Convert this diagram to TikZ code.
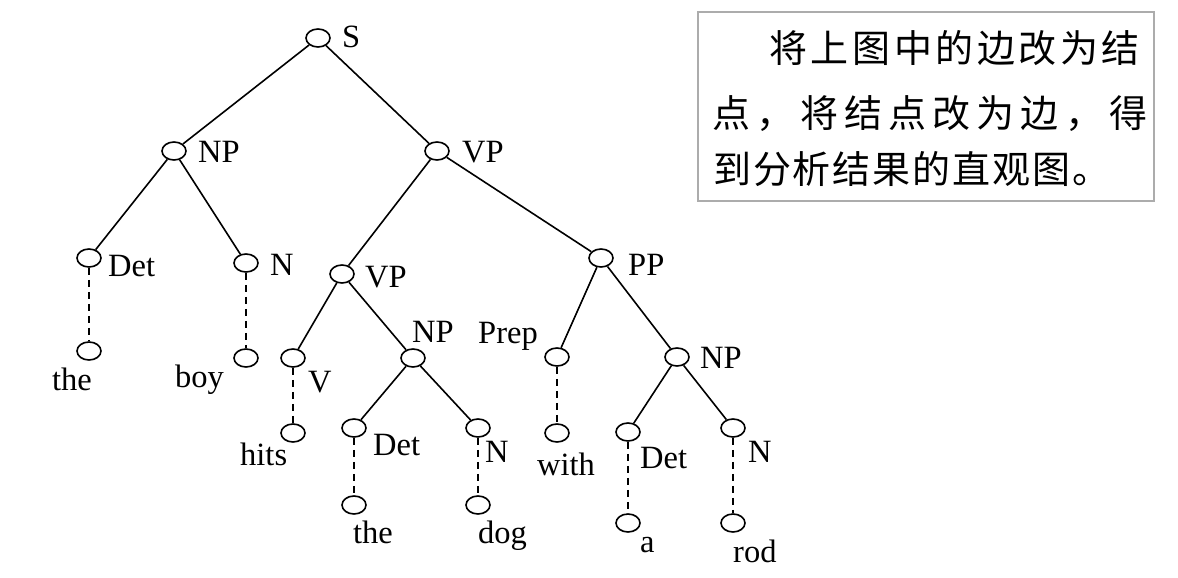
\documentclass[tikz,border=0pt]{standalone}
\usepackage{fontspec}
\setmainfont{Liberation Serif}
\newfontfamily\cjk{Noto Sans CJK SC}
\usetikzlibrary{shapes.geometric}
\newlength\cpitch
\newcommand\cb[1]{\makebox[\cpitch]{#1}}
\begin{document}
\begin{tikzpicture}[x=1pt,y=-1pt,
  nd/.style={ellipse,draw,line width=1.6pt,minimum width=24pt,minimum height=18pt,inner sep=0pt},
  lab/.style={anchor=base west,inner sep=0pt,font=\fontsize{32.5}{38}\selectfont},
  edge/.style={line width=1.6pt},
  lex/.style={line width=1.6pt,dash pattern=on 7pt off 5pt},
  cjkl/.style={anchor=base west,inner sep=0pt,font=\fontsize{38}{42}\cjk}]
\useasboundingbox (0,0) rectangle (1178,578);
% nodes
\node[nd] (S) at (318,38) {};
\node[nd] (NP1) at (174,151) {};
\node[nd] (VP1) at (437,151) {};
\node[nd] (Det1) at (89,258) {};
\node[nd] (N1) at (246,263) {};
\node[nd] (VP2) at (342,274) {};
\node[nd] (PP) at (601,258) {};
\node[nd] (the1) at (89,351) {};
\node[nd] (boy) at (246,358) {};
\node[nd] (V) at (293,358) {};
\node[nd] (NP2) at (413,358) {};
\node[nd] (hits) at (293,433) {};
\node[nd] (Det2) at (354,428) {};
\node[nd] (N2) at (478,428) {};
\node[nd] (the2) at (354,505) {};
\node[nd] (dog) at (478,505) {};
\node[nd] (Prep) at (557,357) {};
\node[nd] (with) at (557,433) {};
\node[nd] (NP3) at (677,357) {};
\node[nd] (Det3) at (628,432) {};
\node[nd] (N3) at (733,428) {};
\node[nd] (a) at (628,523) {};
\node[nd] (rod) at (733,523) {};
% labels
\node[lab] (lS) at (342,48) {S};
\node[lab] (lNP1) at (198,162) {NP};
\node[lab] (lVP1) at (462,162) {VP};
\node[lab] (lDet1) at (108,276) {Det};
\node[lab] (lN1) at (270,275) {N};
\node[lab] (lVP2) at (365,287) {VP};
\node[lab] (lPP) at (628,275) {PP};
\node[lab] (lthe1) at (52,390) {the};
\node[lab] (lboy) at (175,387) {boy};
\node[lab] (lV) at (308,392) {V};
\node[lab] (lhits) at (240,465) {hits};
\node[lab] (lNP2) at (412,342) {NP};
\node[lab] (lDet2) at (373,455) {Det};
\node[lab] (lN2) at (485,462) {N};
\node[lab] (lthe2) at (353,543) {the};
\node[lab] (ldog) at (478,543) {dog};
\node[lab] (lPrep) at (478,343) {Prep};
\node[lab] (lwith) at (537,475) {with};
\node[lab] (lNP3) at (700,368) {NP};
\node[lab] (lDet3) at (640,468) {Det};
\node[lab] (lN3) at (748,462) {N};
\node[lab] (la) at (640,552) {a};
\node[lab] (lrod) at (733,562) {rod};
% edges
\draw[edge] (S) -- (NP1);
\draw[edge] (S) -- (VP1);
\draw[edge] (NP1) -- (Det1);
\draw[edge] (NP1) -- (N1);
\draw[edge] (VP1) -- (VP2);
\draw[edge] (VP1) -- (PP);
\draw[edge] (VP2) -- (V);
\draw[edge] (VP2) -- (NP2);
\draw[edge] (NP2) -- (Det2);
\draw[edge] (NP2) -- (N2);
\draw[edge] (PP) -- (Prep);
\draw[edge] (PP) -- (NP3);
\draw[edge] (NP3) -- (Det3);
\draw[edge] (NP3) -- (N3);
\draw[lex] (Det1) -- (the1);
\draw[lex] (N1) -- (boy);
\draw[lex] (V) -- (hits);
\draw[lex] (Det2) -- (the2);
\draw[lex] (N2) -- (dog);
\draw[lex] (Prep) -- (with);
\draw[lex] (Det3) -- (a);
\draw[lex] (N3) -- (rod);
% note box
\node[draw=gray!65,line width=1.5pt,minimum width=456pt,minimum height=189pt,inner sep=0pt] (box) at (926,106.5) {};
\node[cjkl] (t1) at (767.2,62.5) {\setlength\cpitch{41.6pt}\cb{将}\cb{上}\cb{图}\cb{中}\cb{的}\cb{边}\cb{改}\cb{为}\cb{结}};
\node[cjkl] (t2) at (709,127.5) {\setlength\cpitch{44.1pt}\cb{点}\cb{，}\cb{将}\cb{结}\cb{点}\cb{改}\cb{为}\cb{边}\cb{，}\cb{得}};
\node[cjkl] (t3) at (712,183.5) {\setlength\cpitch{39.9pt}\cb{到}\cb{分}\cb{析}\cb{结}\cb{果}\cb{的}\cb{直}\cb{观}\cb{图}\cb{。}};
\end{tikzpicture}
\end{document}
